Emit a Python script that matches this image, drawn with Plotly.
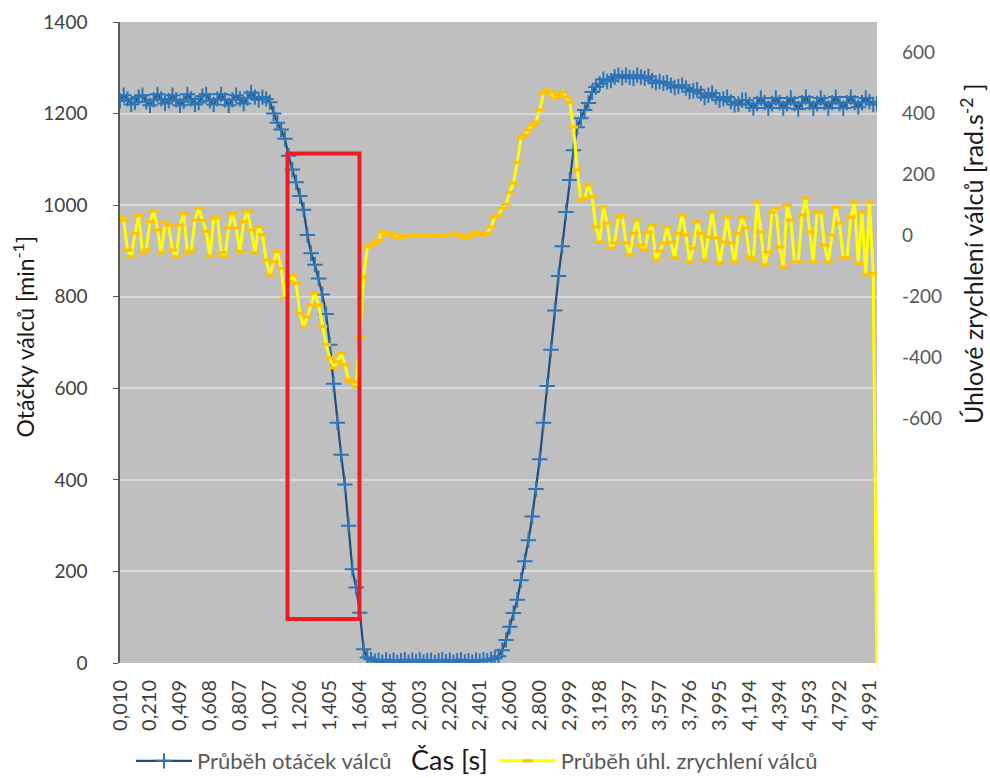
import plotly.graph_objects as go

# ---------------- data ----------------
time_labels = ["0,010", "0,210", "0,409", "0,608", "0,807", "1,007", "1,206", "1,405",
               "1,604", "1,804", "2,003", "2,202", "2,401", "2,600", "2,800", "2,999",
               "3,198", "3,397", "3,597", "3,796", "3,995", "4,194", "4,394", "4,593",
               "4,792", "4,991"]
label_every = 8  # one tick label every 8 samples

rpm = [
    1228, 1240, 1232, 1220, 1225, 1236, 1240, 1226, 1218, 1230,
    1242, 1232, 1222, 1228, 1240, 1230, 1218, 1226, 1242, 1232,
    1220, 1224, 1238, 1242, 1228, 1220, 1232, 1242, 1230, 1218,
    1230, 1240, 1232, 1222, 1234, 1246, 1236, 1230, 1236, 1232,
    1225, 1200, 1180, 1165, 1145, 1108, 1078, 1050, 1020, 990,
    935, 895, 870, 840, 805, 762, 695, 610, 525, 455,
    390, 300, 205, 165, 110, 30, 12,
    8, 4, 6, 2, 7, 3, 6, 1, 5, 7,
    2, 6, 3, 7, 2, 5, 6, 1, 5, 7,
    3, 6, 2, 5, 7, 3, 5, 2, 6, 4,
    7, 5, 8,
    10, 15, 28, 50, 79, 109, 138, 181, 222, 268,
    320, 380, 445, 525, 605, 684, 770, 845, 910, 985,
    1055, 1120, 1170, 1190, 1208, 1223, 1247, 1258, 1265, 1275,
    1270, 1272, 1280, 1284, 1278, 1284, 1279, 1277, 1284, 1280,
    1277, 1281, 1272, 1267, 1270, 1266, 1268, 1262, 1257, 1259,
    1262, 1256, 1248, 1250, 1252, 1244, 1235, 1240, 1245, 1236,
    1229, 1232, 1236, 1226, 1219, 1221, 1229, 1229, 1220, 1212,
    1222, 1234, 1224, 1212, 1222, 1234, 1224, 1212, 1222, 1234,
    1222, 1210, 1224, 1236, 1224, 1212, 1222, 1234, 1224, 1212,
    1224, 1236, 1222, 1212, 1224, 1236, 1224, 1214, 1224, 1234,
    1226, 1220, 1222,
]

accel = [
    62, 51, -47, -69, 8, 66, -56, -47, 46, 80,
    19, -56, 44, 33, -47, -69, 35, 73, -56, -50,
    51, 90, 50, 14, -67, 57, 62, -56, -69, 25,
    73, 25, -52, 46, 80, 19, -56, 30, 3, -80,
    -129, -85, -52, -107, -205,
    -150, -129, -155, -254, -298, -266, -227, -188, -227, -298,
    -357, -400, -433, -413, -384, -423, -472, -479, -495, -332,
    -135, -37,
    -30, -25, -14, 12, 2, 8, 5, -8, -8, 2,
    0, 2, 2, 2, 2, 2, 2, 0, 2, 2,
    2, 5, 5, 5, 0, -5, -5, 5, 12,
    5, 2, 8, 28, 61, 68, 90, 103, 142, 172,
    240, 320, 330, 346, 362, 372, 411, 467, 477, 470,
    450, 460, 470, 454, 437, 356, 215, 116,
    123, 166, 127, 28, -21, 94, 41, -41, -24, 61,
    68, -24, -63, 8, 51, -31, -47, 12, 35, -80,
    -50, -24, 28, -21, -73, 8, 68, 2, -86, -41,
    45, 8, -80, -4, 77, -8, -90, -21, 61, -24,
    -86, 8, 61, 25, -70, -80, 110, 12, -96, -53,
    77, 90, -37, -103, 100, 51, -86, -86, 68, 123,
    12, -86, 77, 77, -31, -86, 2, 93, 41, -73,
    -73, 61, 110, -90, 77, -129, 110, -123, -1500,
]

rpm_ticks = [0, 200, 400, 600, 800, 1000, 1200, 1400]
accel_ticks = [-600, -400, -200, 0, 200, 400, 600]
accel_tick_text = ["-600", "-400", "-200", "0", "200", "400", "600"]

# highlighted region (sample index / rpm units)
box_x = (44.7, 63.9)
box_y = (96, 1113)

# ---------------- figure ----------------
sample_idx = list(range(len(rpm)))
FONT = "Lato"

fig = go.Figure()
fig.add_trace(go.Scatter(
    x=sample_idx, y=rpm, name="Průběh otáček válců", mode="lines+markers",
    line=dict(color="#1F4E79", width=2.2),
    marker=dict(symbol="cross-thin-open", size=11, color="#2E75B6",
                line=dict(color="#2E75B6", width=2)),
    legend="legend", showlegend=True,
))
fig.add_trace(go.Scatter(
    x=sample_idx, y=accel, name="Průběh úhl. zrychlení válců", mode="lines+markers",
    yaxis="y2",
    line=dict(color="#FFFF00", width=3),
    marker=dict(symbol="line-ew-open", size=7, color="#FFC000",
                line=dict(color="#FFC000", width=3)),
    legend="legend2", showlegend=True,
))

fig.add_shape(type="rect", xref="x", yref="y",
              x0=box_x[0], x1=box_x[1], y0=box_y[0], y1=box_y[1],
              line=dict(color="#ED1C24", width=4), fillcolor="rgba(0,0,0,0)")

fig.update_layout(
    width=990, height=778,
    showlegend=True,
    margin=dict(l=120, r=113, t=22, b=115, autoexpand=False),
    paper_bgcolor="white", plot_bgcolor="#BFBFBF",
    font=dict(family=FONT, color="#404040"),
    xaxis=dict(
        range=[0, len(rpm) - 1],
        tickmode="array",
        tickvals=sample_idx[::label_every],
        ticktext=time_labels,
        tickangle=-90,
        tickfont=dict(size=20, color="#404040"),
        showgrid=False, zeroline=False, showline=False, ticks="",
        ticklabelstandoff=12, automargin=False,
    ),
    yaxis=dict(
        range=[0, 1400], tickvals=rpm_ticks,
        showgrid=True, gridcolor="#D9D9D9", gridwidth=1.5,
        showline=True, linecolor="#595959", linewidth=1.5,
        ticks="outside", ticklen=5, tickcolor="#595959",
        zeroline=False, tickfont=dict(size=19, color="#404040"),
        ticklabelstandoff=22, automargin=False,
    ),
    yaxis2=dict(
        overlaying="y", side="right", range=[-1400, 700],
        tickmode="array", tickvals=accel_ticks, ticktext=accel_tick_text,
        showgrid=False, zeroline=False, showline=False,
        ticks="", tickfont=dict(size=19, color="#595959"),
        ticklabelstandoff=24, automargin=False,
    ),
    legend=dict(x=0.0145, y=-0.153, xanchor="left", yanchor="middle",
                orientation="h", bgcolor="rgba(0,0,0,0)", itemwidth=56,
                font=dict(size=22, color="#595959", family=FONT)),
    legend2=dict(x=0.495, y=-0.153, xanchor="left", yanchor="middle",
                 orientation="h", bgcolor="rgba(0,0,0,0)", itemwidth=56,
                 font=dict(size=22, color="#595959", family=FONT)),
    annotations=[
        dict(text="Čas [s]", x=0.435, y=-0.151, xref="paper", yref="paper",
             xanchor="center", yanchor="middle", showarrow=False,
             font=dict(size=27, color="#1a1a1a", family=FONT)),
        dict(text="Otáčky válců [min<sup>-1</sup>]", x=-0.127, y=0.509,
             xref="paper", yref="paper", xanchor="center", yanchor="middle",
             textangle=-90, showarrow=False,
             font=dict(size=23, color="#1a1a1a", family=FONT)),
        dict(text="Úhlové zrychlení válců [rad.s<sup>-2</sup> ]", x=1.1255, y=0.638,
             xref="paper", yref="paper", xanchor="center", yanchor="middle",
             textangle=-90, showarrow=False,
             font=dict(size=25, color="#1a1a1a", family=FONT)),
    ],
)

fig.write_html("out.html", config={"displayModeBar": False},
               post_script="document.body.style.margin='0px';")
